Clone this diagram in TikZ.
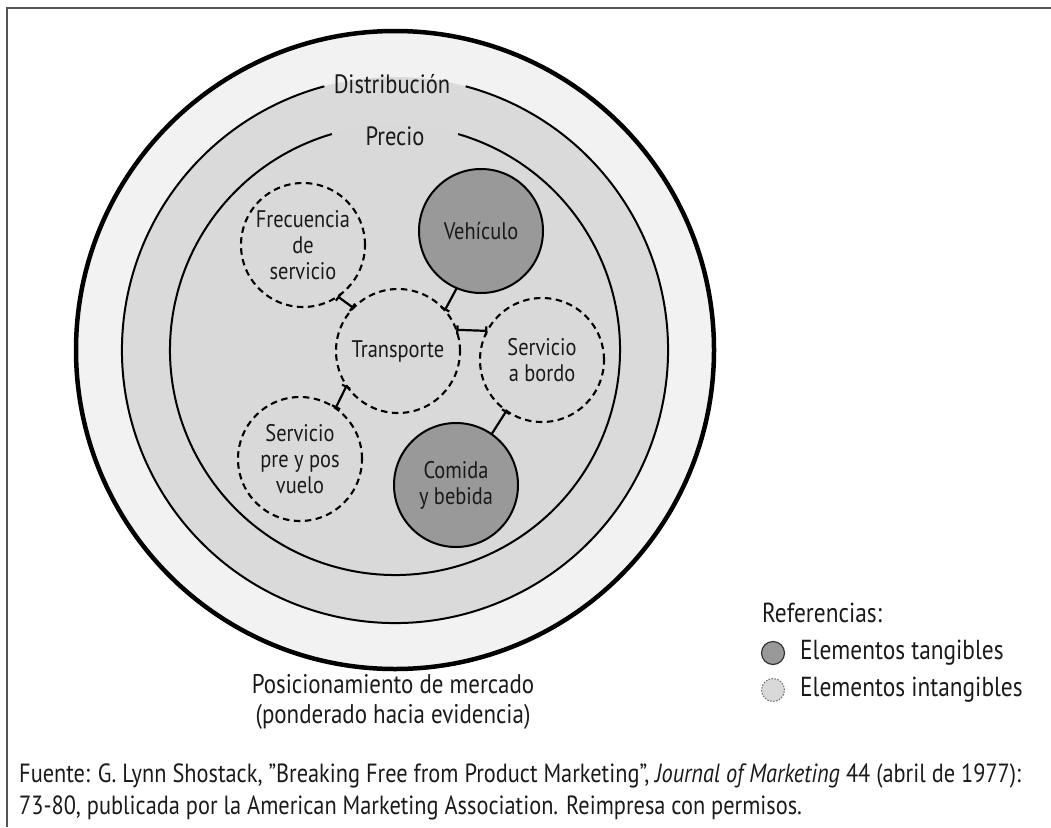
\documentclass[tikz,border=0pt]{standalone}
\usepackage{fontspec}
\setmainfont{PT Sans}[FakeStretch=0.85]
\usetikzlibrary{arrows.meta}
\definecolor{ringA}{HTML}{F2F2F2}
\definecolor{ringB}{HTML}{DADADA}
\definecolor{ringC}{HTML}{D9D9D9}
\definecolor{tang}{HTML}{999999}
\definecolor{ink}{HTML}{1A1A1A}
\definecolor{frame}{HTML}{555555}
\tikzset{
  small/.style={circle, minimum size=124pt, inner sep=0pt, outer sep=0pt, align=center,
    text=ink, font=\fontsize{24}{26}\selectfont},
  tangc/.style={small, draw=black, line width=2pt, fill=tang},
  intangc/.style={small, draw=black, line width=2.1pt, dash pattern=on 6.5pt off 4.5pt},
  conn/.style={line width=2.2pt, draw=black},
  bartip/.tip={Bar[width=9pt,line width=2.2pt]},
  ringline/.style={line width=2pt, draw=black},
  ringlabel/.style={text=ink, font=\fontsize{26.5}{28}\selectfont, anchor=base},
  legendtext/.style={text=ink, font=\fontsize{27.5}{28}\selectfont, anchor=west, inner sep=0pt},
  foot/.style={text=ink, font=\fontsize{26.3}{28}\selectfont, anchor=west, inner sep=0pt}
}
\begin{document}
\begin{tikzpicture}[x=1pt,y=-1pt]
\useasboundingbox (0,0) rectangle (1051,827);
% frame
\draw[frame, line width=2pt] (7,827) -- (7,8) -- (1051,8);
% rings
\coordinate (C) at (395,350);
\fill[ringA] (C) circle[radius=319];
\fill[ringB] (C) circle[radius=273];
\fill[ringC] (C) circle[radius=225];
\draw[line width=4.5pt] (C) circle[radius=319];
\draw[ringline] (C) ++(-75:273) arc[start angle=-75, end angle=255, radius=273];
\draw[ringline] (C) ++(-73.7:225) arc[start angle=-73.7, end angle=253.7, radius=225];
\node[ringlabel] (dist) at (392,93) {Distribución};
\node[ringlabel] (prec) at (395,145) {Precio};
% circles
\node[tangc] (veh) at (481,231) {Vehículo};
\node[intangc] (frec) at (303,245) {Frecuencia\\de\\servicio};
\node[intangc] (trans) at (398,351) {Transporte};
\node[intangc] (bordo) at (542,360) {Servicio\\a bordo};
\node[intangc] (pre) at (300,459) {Servicio\\pre y pos\\vuelo};
\node[tangc] (comida) at (456,485) {Comida\\y bebida};
% connectors
\draw[conn, bartip-bartip] (frec.304) -- (trans.136);
\draw[conn, -bartip] (veh.247) -- (trans.41);
\draw[conn, bartip-bartip] (trans.20) -- (bordo.152);
\draw[conn, bartip-bartip] (trans.214) -- (pre.55);
\draw[conn, -bartip] (comida.55) -- (bordo.235);
% bottom label
\node[text=ink, font=\fontsize{27}{30}\selectfont, align=center] (pos) at (393,702)
  {Posicionamiento de mercado\\(ponderado hacia evidencia)};
% legend
\node[legendtext] (ref) at (762,613) {Referencias:};
\node[circle, minimum size=23pt, inner sep=0pt, fill=tang, draw=black!80, line width=1.2pt] (lt) at (773,653) {};
\node[circle, minimum size=23pt, inner sep=0pt, fill=ringC, draw=black!60, line width=1pt, dash pattern=on 1.5pt off 1.5pt] (li) at (773,690) {};
\node[legendtext] (ltt) at (800,653) {Elementos tangibles};
\node[legendtext] (lit) at (800,690) {Elementos intangibles};
% footer
\node[foot] (f1) at (19,776) {Fuente: G. Lynn Shostack, "Breaking Free from Product Marketing", \textit{Journal of Marketing} 44 (abril de 1977):};
\node[foot] (f2) at (19,808) {73-80, publicada por la American Marketing Association. Reimpresa con permisos.};
\end{tikzpicture}
\end{document}
